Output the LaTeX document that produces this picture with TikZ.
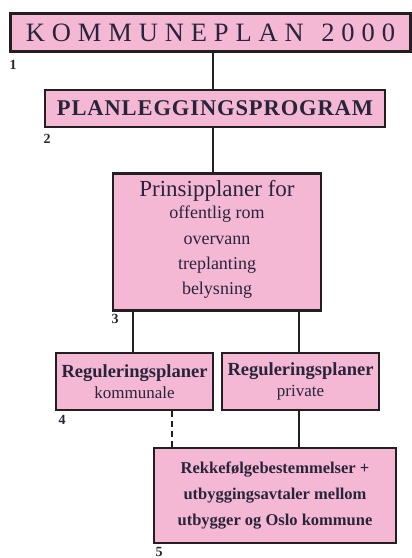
\documentclass[tikz,border=0pt]{standalone}
\usepackage{fontspec}
\setmainfont{Liberation Serif}
\definecolor{boxpink}{RGB}{245,184,212}
\definecolor{boxline}{RGB}{35,31,32}
\definecolor{inktext}{RGB}{40,36,58}
\begin{document}
\begin{tikzpicture}[x=1pt,y=-1pt,
  pbox/.style={draw=boxline,line width=2.6pt,fill=boxpink,text=inktext,inner sep=0pt,align=center},
  conn/.style={draw=boxline,line width=2.2pt},
  numlab/.style={text=inktext,font=\fontsize{14}{14}\selectfont\bfseries,inner sep=0pt}]
\useasboundingbox (0,0) rectangle (412,558);
\node[pbox,minimum width=400pt,minimum height=38pt,font=\fontsize{26.5}{26.5}\selectfont\addfontfeature{LetterSpace=26}] (b1) at (210.5,32.5)
  {KOMMUNEPLAN\hspace{4pt} 2000};
\node[pbox,minimum width=340pt,minimum height=37pt,font=\fontsize{22.5}{22.5}\selectfont\bfseries\addfontfeature{LetterSpace=4}] (b2) at (215,108.5)
  {PLANLEGGINGSPROGRAM};
\node[pbox,minimum width=208pt,minimum height=137pt,anchor=north] (b3) at (217,172) {};
\node[text=inktext,anchor=base,inner sep=0pt,font=\fontsize{23}{23}\selectfont] (t3a) at (217,196) {Prinsipplaner for};
\node[text=inktext,inner sep=0pt,align=center,anchor=north,font=\fontsize{18}{25.3}\selectfont] (t3b) at (217,206)
  {offentlig rom\\overvann\\treplanting\\belysning};
\node[pbox,minimum width=157pt,minimum height=57pt] (b4a) at (134.5,381.5)
  {{\fontsize{18.5}{20}\selectfont\bfseries Reguleringsplaner}\\[4pt]{\fontsize{17}{18}\selectfont kommunale}};
\node[pbox,minimum width=157pt,minimum height=57pt] (b4b) at (300.5,381.5)
  {{\fontsize{18.5}{20}\selectfont\bfseries Reguleringsplaner}\\[4pt]{\fontsize{17}{18}\selectfont private}};
\node[pbox,minimum width=242pt,minimum height=95pt,font=\fontsize{16.5}{26}\selectfont\bfseries] (b5) at (275,495.5)
  {Rekkefølgebestemmelser +\\utbyggingsavtaler mellom\\utbygger og Oslo kommune};
\node[numlab] (n1) at (13,65) {1};
\node[numlab] (n2) at (47,139) {2};
\node[numlab] (n3) at (115,319) {3};
\node[numlab] (n4) at (62,420) {4};
\node[numlab] (n5) at (159,551.5) {5};
\draw[conn] ([xshift=2.5pt]b1.south) -- ([xshift=-2pt]b2.north);
\draw[conn] ([xshift=-2pt]b2.south) -- ([xshift=-4pt]b3.north);
\draw[conn] ([xshift=-84pt]b3.south) -- ([xshift=-1.5pt]b4a.north);
\draw[conn] ([xshift=82pt]b3.south) -- ([xshift=-1.5pt]b4b.north);
\draw[conn,dash pattern=on 6pt off 4pt] ([xshift=37.5pt]b4a.south) -- ([xshift=37.5pt]b4a.south |- b5.north);
\draw[conn] ([xshift=-1.5pt]b4b.south) -- ([xshift=-1.5pt]b4b.south |- b5.north);
\end{tikzpicture}
\end{document}
